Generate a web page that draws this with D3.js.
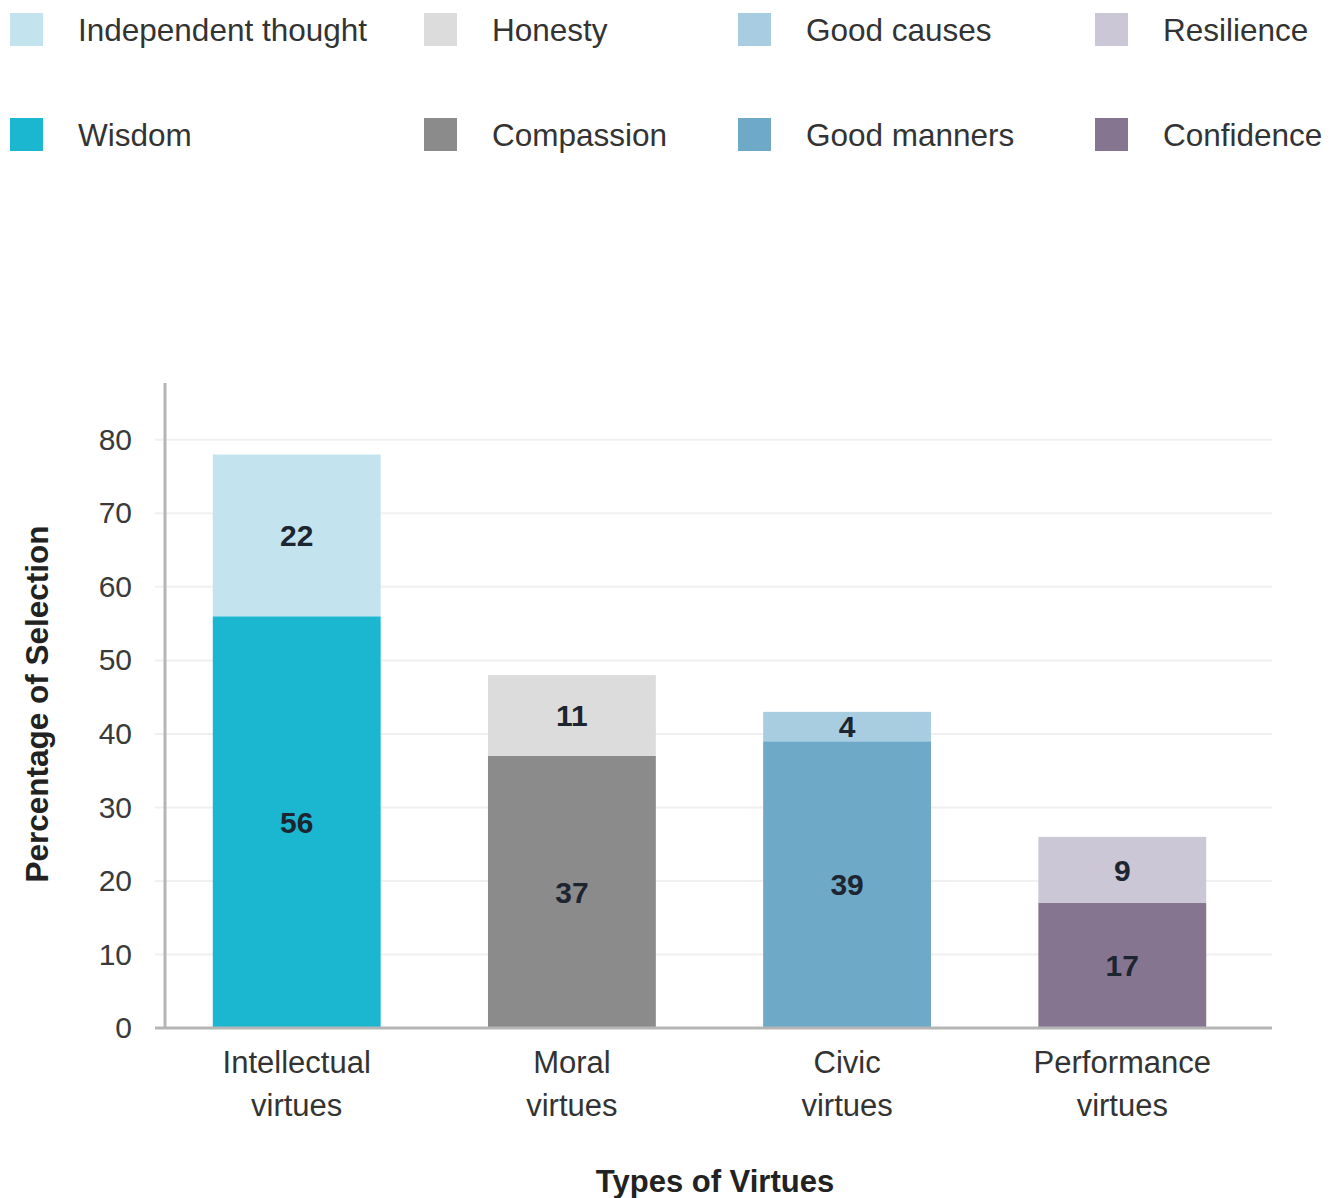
<!DOCTYPE html>
<html>
<head>
<meta charset="utf-8">
<script src="https://cdn.jsdelivr.net/npm/d3@7"></script>
<style>
  html, body { margin: 0; padding: 0; background: #ffffff; }
  svg { display: block; font-family: "Liberation Sans", Arial, Helvetica, sans-serif; }
</style>
</head>
<body>
<svg id="chart" width="1335" height="1198"></svg>
<script>
// Virtue groups along the x axis (two-line labels)
const categories = ["Intellectual virtues", "Moral virtues", "Civic virtues", "Performance virtues"];
const categoryLines = [["Intellectual", "virtues"], ["Moral", "virtues"], ["Civic", "virtues"], ["Performance", "virtues"]];

// Lower (dark) segment of each stack
const lowerNames = ["Wisdom", "Compassion", "Good manners", "Confidence"];
const lowerValues = [56, 37, 39, 17];
const lowerColors = ["#1bb7d1", "#8b8b8b", "#6ea9c8", "#867590"];

// Upper (light) segment of each stack
const upperNames = ["Independent thought", "Honesty", "Good causes", "Resilience"];
const upperValues = [22, 11, 4, 9];
const upperColors = ["#c3e4ef", "#dcdcdc", "#a8cde1", "#cbc7d7"];

const yTicks = [0, 10, 20, 30, 40, 50, 60, 70, 80];

const svg = d3.select("#chart");

const x = d3.scaleBand()
  .domain(categories)
  .range([166, 1253])
  .paddingInner(0.39)
  .paddingOuter(0.17);

const y = d3.scaleLinear()
  .domain([0, 88])
  .range([1028, 381]);

// Horizontal gridlines
svg.append("g")
  .selectAll("line")
  .data(yTicks.filter(d => d > 0))
  .join("line")
  .attr("x1", 155).attr("x2", 1272)
  .attr("y1", d => y(d)).attr("y2", d => y(d))
  .attr("stroke", "#f0f0f0")
  .attr("stroke-width", 2);

// Y axis
const yAxis = d3.axisLeft(y).tickValues(yTicks).tickSize(0).tickPadding(33);
const yg = svg.append("g").attr("transform", "translate(165,0)").call(yAxis);
yg.select(".domain").remove();
yg.selectAll("text")
  .attr("font-size", 30)
  .attr("fill", "#3a3a3a")
  .attr("font-family", "Liberation Sans, Arial, sans-serif");
svg.append("line")
  .attr("x1", 165).attr("x2", 165)
  .attr("y1", 383).attr("y2", y(0))
  .attr("stroke", "#b5b5b5").attr("stroke-width", 3);

// Stacked bars
const stacks = categories.map((c, i) => ({
  cat: c,
  segs: [
    { name: lowerNames[i], v: lowerValues[i], y0: 0, y1: lowerValues[i], color: lowerColors[i] },
    { name: upperNames[i], v: upperValues[i], y0: lowerValues[i], y1: lowerValues[i] + upperValues[i], color: upperColors[i] }
  ]
}));

const groups = svg.append("g").selectAll("g")
  .data(stacks)
  .join("g")
  .attr("transform", d => `translate(${x(d.cat)},0)`);

groups.selectAll("rect")
  .data(d => d.segs)
  .join("rect")
  .attr("x", 0)
  .attr("width", x.bandwidth())
  .attr("y", d => y(d.y1))
  .attr("height", d => y(d.y0) - y(d.y1))
  .attr("fill", d => d.color);

groups.selectAll("text")
  .data(d => d.segs)
  .join("text")
  .attr("x", x.bandwidth() / 2)
  .attr("y", d => (y(d.y0) + y(d.y1)) / 2)
  .attr("dy", "0.36em")
  .attr("text-anchor", "middle")
  .attr("font-size", 30)
  .attr("font-weight", "bold")
  .attr("fill", "#1c2530")
  .text(d => d.v);

// X axis baseline
svg.append("line")
  .attr("x1", 155).attr("x2", 1272)
  .attr("y1", y(0)).attr("y2", y(0))
  .attr("stroke", "#b5b5b5").attr("stroke-width", 3);

// Category labels
const xl = svg.append("g").selectAll("text")
  .data(categories)
  .join("text")
  .attr("text-anchor", "middle")
  .attr("font-size", 31)
  .attr("fill", "#333333");
xl.each(function(d, i) {
  const t = d3.select(this);
  categoryLines[i].forEach((line, k) => {
    t.append("tspan")
      .attr("x", x(d) + x.bandwidth() / 2)
      .attr("y", 1073 + k * 43)
      .text(line);
  });
});

// Axis titles
svg.append("text")
  .attr("x", 715).attr("y", 1192)
  .attr("text-anchor", "middle")
  .attr("font-size", 31)
  .attr("font-weight", "bold")
  .attr("fill", "#222222")
  .text("Types of Virtues");

svg.append("text")
  .attr("transform", "translate(48,704) rotate(-90)")
  .attr("text-anchor", "middle")
  .attr("font-size", 31.5)
  .attr("font-weight", "bold")
  .attr("fill", "#222222")
  .text("Percentage of Selection");

// Legend: upper segments on first row, lower segments on second row
const legendCols = [10, 424, 738, 1095];
const legendItems = [];
upperNames.forEach((n, i) => legendItems.push({ name: n, color: upperColors[i], col: i, row: 0 }));
lowerNames.forEach((n, i) => legendItems.push({ name: n, color: lowerColors[i], col: i, row: 1 }));

const lg = svg.append("g").selectAll("g")
  .data(legendItems)
  .join("g")
  .attr("transform", d => `translate(${legendCols[d.col]},${13 + d.row * 105})`);
lg.append("rect")
  .attr("width", 33).attr("height", 33)
  .attr("fill", d => d.color);
lg.append("text")
  .attr("x", 68).attr("y", 17)
  .attr("dy", "0.36em")
  .attr("font-size", 31.5)
  .attr("fill", "#333333")
  .text(d => d.name);
</script>
</body>
</html>
